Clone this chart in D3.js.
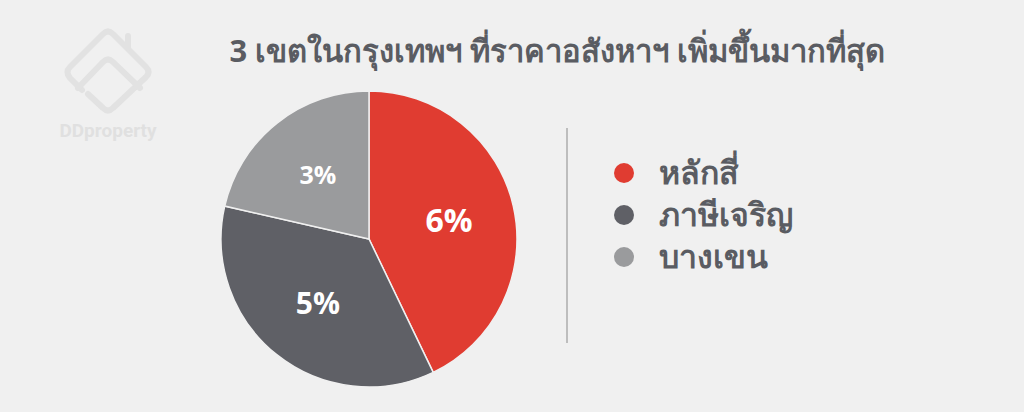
<!DOCTYPE html>
<html><head><meta charset="utf-8">
<script src="https://cdn.jsdelivr.net/npm/d3@7"></script>
<style>html,body{margin:0;padding:0;background:#f0f0f0;}svg{display:block;}</style>
</head><body>
<svg id="c" width="1024" height="412"></svg>
<script>
const title = "3 เขตในกรุงเทพฯ ที่ราคาอสังหาฯ เพิ่มขึ้นมากที่สุด";
const categories = ["หลักสี่", "ภาษีเจริญ", "บางเขน"];
const values = [6, 5, 3];
const labels = ["6%", "5%", "3%"];
const colors = ["#e03c31", "#5f6066", "#9a9b9d"];

const svg = d3.select("#c");
svg.append("rect").attr("width",1024).attr("height",412).attr("fill","#f0f0f0");

// watermark logo
const logo = svg.append("g").attr("fill","none").attr("stroke","#e2e2e2").attr("stroke-width",6).attr("stroke-linejoin","round").attr("stroke-linecap","round");
logo.append("path").attr("d","M82,90 L70,78 Q65,72 70,67 L103,34 Q108,29 113,34 L146,67 Q151,72 146,77 L113,108 Q108,113 103,108 L88,94");
logo.append("path").attr("d","M78,88 L103,62 Q108,57 113,62 L140,88");
logo.append("path").attr("d","M128,36 L128,48");
svg.append("text").attr("x",108).attr("y",137).attr("text-anchor","middle")
  .attr("font-family","Roboto, 'Open Sans', sans-serif").attr("font-weight",700).attr("font-size",19)
  .attr("fill","#e0e0e0").text("DDproperty");

// title
svg.append("text").attr("x",557).attr("y",62).attr("text-anchor","middle")
  .attr("font-family","'Noto Sans', 'DejaVu Sans', sans-serif").attr("font-weight",700).attr("font-size",31)
  .attr("fill","#5a5c62").attr("textLength",655).attr("lengthAdjust","spacingAndGlyphs").text(title);

// pie
const cx = 369, cy = 239, R = 148;
const pie = d3.pie().sort(null).value(d => d)(values);
const arc = d3.arc().innerRadius(0).outerRadius(R);
const labelArc = d3.arc().innerRadius(82).outerRadius(82);
const g = svg.append("g").attr("transform",`translate(${cx},${cy})`);
g.selectAll("path").data(pie).join("path")
  .attr("d",arc).attr("fill",(d,i)=>colors[i]).attr("stroke","#f0f0f0").attr("stroke-width",1.5);
const fsz = [32, 30, 25];
g.selectAll("text").data(pie).join("text")
  .attr("transform",d=>`translate(${labelArc.centroid(d)})`)
  .attr("text-anchor","middle").attr("dy","0.36em")
  .attr("font-family","'Open Sans', 'Noto Sans', sans-serif").attr("font-weight",700)
  .attr("font-size",(d,i)=>fsz[i]).attr("fill","#ffffff").text((d,i)=>labels[i]);

// separator
svg.append("line").attr("x1",567).attr("x2",567).attr("y1",128).attr("y2",343).attr("stroke","#8a8a8a").attr("stroke-width",1);

// legend
const ly = d3.scalePoint().domain(categories).range([173, 257]);
const leg = svg.append("g");
leg.selectAll("circle").data(categories).join("circle")
  .attr("cx",624).attr("cy",d=>ly(d)).attr("r",10).attr("fill",(d,i)=>colors[i]);
leg.selectAll("text").data(categories).join("text")
  .attr("x",659).attr("y",d=>ly(d)).attr("dy","0.35em")
  .attr("font-family","'Noto Sans', 'DejaVu Sans', sans-serif").attr("font-weight",700).attr("font-size",32)
  .attr("fill","#5a5c62").text(d=>d);
</script>
</body></html>
